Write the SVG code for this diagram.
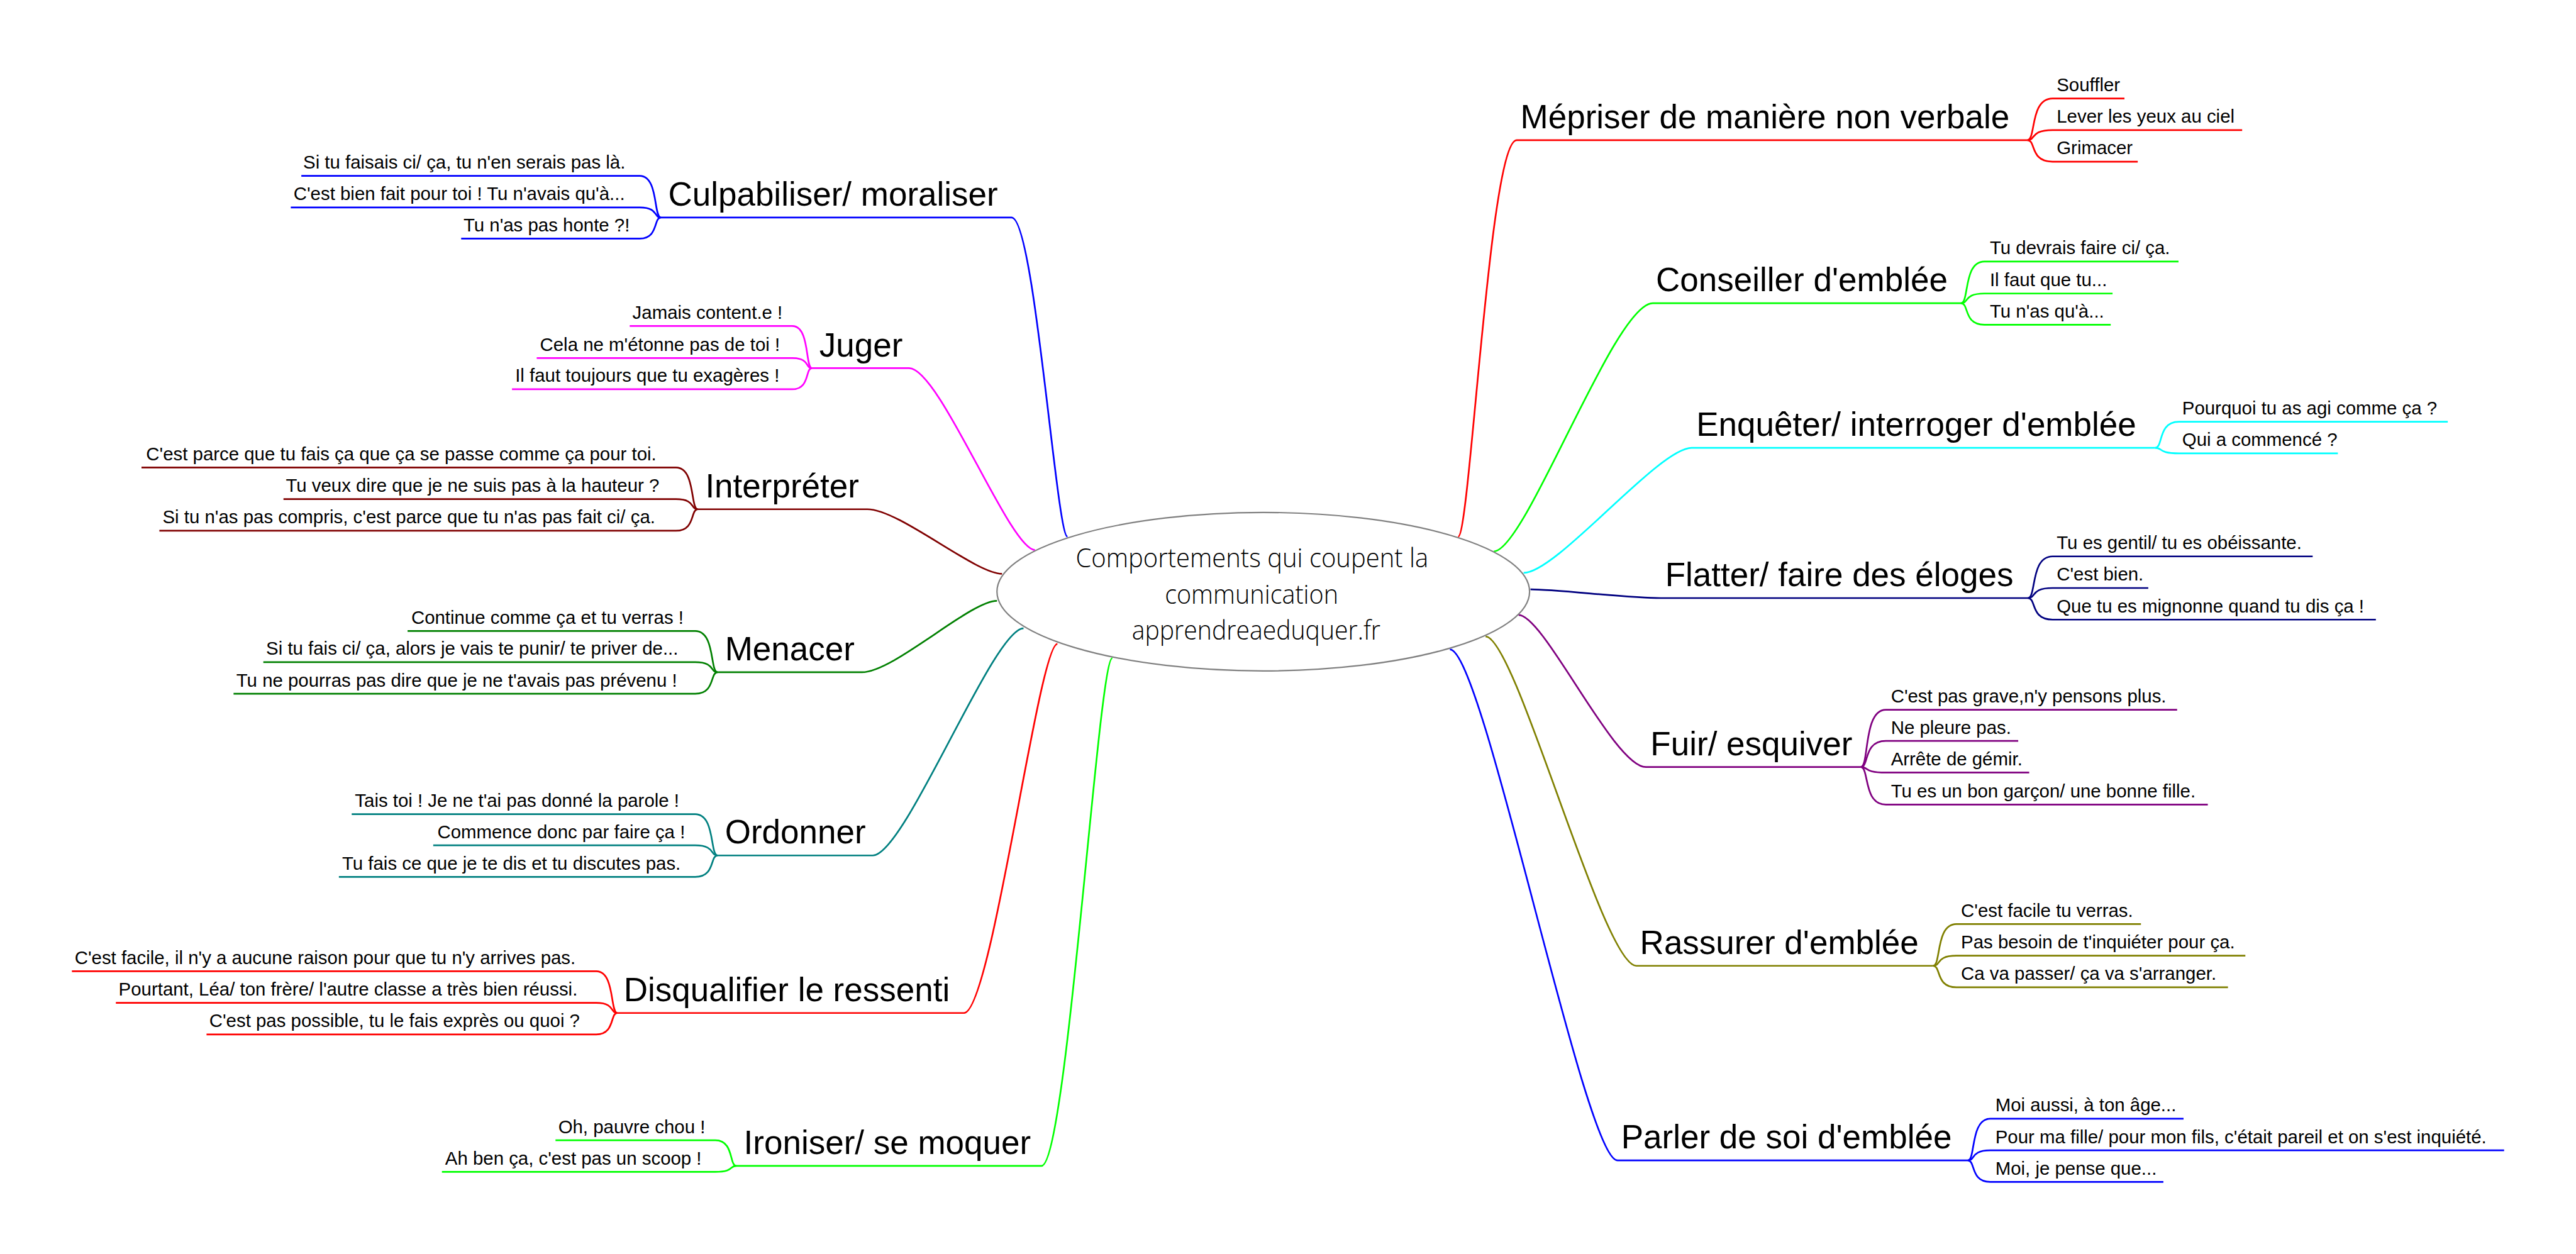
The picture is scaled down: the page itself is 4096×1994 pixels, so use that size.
<svg xmlns="http://www.w3.org/2000/svg" width="4096" height="1994" viewBox="0 0 4096 1994">
<style>
.c{fill:none;stroke-width:3.7}
.r{stroke:#f00}.g{stroke:#0f0}.y{stroke:#0ff}.n{stroke:#000080}.p{stroke:#800080}.o{stroke:#808000}.b{stroke:#00f}.m{stroke:#f0f}.d{stroke:#800000}.e{stroke:#008000}.t{stroke:#008080}
text{font-family:"Liberation Sans",Arial,sans-serif;fill:#000}
.h{font-size:72.8px}
.s{font-size:40.4px}
.k{font-family:"Open Sans","Liberation Sans",sans-serif;font-weight:300;font-size:58px;text-anchor:middle}
</style>
<rect width="4096" height="1994" fill="#fff"/>
<g transform="scale(0.72818)">
<g id="connectors">
<path class="c r" d="M3184,1172C3210,1172 3252,306 3312,306H4427"/>
<path class="c r" d="M4427,306C4446,306 4432,215 4482,215H4639"/>
<path class="c r" d="M4427,306C4446,306 4432,284 4482,284H4896"/>
<path class="c r" d="M4427,306C4446,306 4432,353 4482,353H4668"/>
<path class="c g" d="M3262,1204C3331,1204 3525,662 3609,662H4282"/>
<path class="c g" d="M4282,662C4300,662 4287,571 4333,571H4757"/>
<path class="c g" d="M4282,662C4300,662 4287,641 4333,641H4613"/>
<path class="c g" d="M4282,662C4300,662 4287,709 4333,709H4609"/>
<path class="c y" d="M3327,1251C3400,1251 3621,978 3694,978H4706"/>
<path class="c y" d="M4706,978C4724,978 4711,921 4758,921H5345"/>
<path class="c y" d="M4706,978C4724,978 4711,990 4758,990H5105"/>
<path class="c n" d="M3342,1287C3399,1287 3556,1306 3626,1306H4428"/>
<path class="c n" d="M4428,1306C4447,1306 4433,1215 4482,1215H5050"/>
<path class="c n" d="M4428,1306C4447,1306 4433,1284 4482,1284H4691"/>
<path class="c n" d="M4428,1306C4447,1306 4433,1353 4482,1353H5188"/>
<path class="c p" d="M3316,1343C3372,1343 3524,1675 3594,1675H4063"/>
<path class="c p" d="M4063,1675C4082,1675 4068,1550 4118,1550H4754"/>
<path class="c p" d="M4063,1675C4082,1675 4068,1618 4118,1618H4407"/>
<path class="c p" d="M4063,1675C4082,1675 4068,1687 4118,1687H4431"/>
<path class="c p" d="M4063,1675C4082,1675 4068,1757 4118,1757H4821"/>
<path class="c o" d="M3244,1390C3310,1390 3500,2109 3573,2109H4221"/>
<path class="c o" d="M4221,2109C4239,2109 4226,2018 4272,2018H4675"/>
<path class="c o" d="M4221,2109C4239,2109 4226,2087 4272,2087H4903"/>
<path class="c o" d="M4221,2109C4239,2109 4226,2156 4272,2156H4865"/>
<path class="c b" d="M3166,1418C3239,1418 3460,2534 3532,2534H4297"/>
<path class="c b" d="M4297,2534C4314,2534 4302,2443 4346,2443H4768"/>
<path class="c b" d="M4297,2534C4314,2534 4302,2512 4346,2512H5468"/>
<path class="c b" d="M4297,2534C4314,2534 4302,2581 4346,2581H4724"/>
<path class="c b" d="M2331,1172C2307,1172 2259,475 2209,475H1443"/>
<path class="c b" d="M1443,475C1427,475 1438,384 1397,384H658"/>
<path class="c b" d="M1443,475C1427,475 1438,453 1397,453H635"/>
<path class="c b" d="M1443,475C1427,475 1438,521 1397,521H1007"/>
<path class="c m" d="M2260,1201C2205,1201 2052,804 1985,804H1773"/>
<path class="c m" d="M1773,804C1758,804 1769,712 1730,712H1375"/>
<path class="c m" d="M1773,804C1758,804 1769,782 1730,782H1172"/>
<path class="c m" d="M1773,804C1758,804 1769,850 1730,850H1118"/>
<path class="c d" d="M2188,1253C2129,1253 1964,1112 1894,1112H1524"/>
<path class="c d" d="M1524,1112C1507,1112 1519,1021 1476,1021H309"/>
<path class="c d" d="M1524,1112C1507,1112 1519,1090 1476,1090H619"/>
<path class="c d" d="M1524,1112C1507,1112 1519,1159 1476,1159H348"/>
<path class="c e" d="M2177,1312C2118,1312 1952,1468 1882,1468H1567"/>
<path class="c e" d="M1567,1468C1550,1468 1562,1378 1518,1378H890"/>
<path class="c e" d="M1567,1468C1550,1468 1562,1446 1518,1446H575"/>
<path class="c e" d="M1567,1468C1550,1468 1562,1515 1518,1515H510"/>
<path class="c t" d="M2235,1372C2169,1372 1976,1868 1906,1868H1567"/>
<path class="c t" d="M1567,1868C1550,1868 1562,1778 1518,1778H768"/>
<path class="c t" d="M1567,1868C1550,1868 1562,1846 1518,1846H946"/>
<path class="c t" d="M1567,1868C1550,1868 1562,1915 1518,1915H740"/>
<path class="c r" d="M2309,1406C2268,1406 2165,2212 2105,2212H1348"/>
<path class="c r" d="M1348,2212C1332,2212 1343,2121 1302,2121H157"/>
<path class="c r" d="M1348,2212C1332,2212 1343,2190 1302,2190H253"/>
<path class="c r" d="M1348,2212C1332,2212 1343,2259 1302,2259H451"/>
<path class="c g" d="M2429,1437C2398,1437 2330,2546 2274,2546H1608"/>
<path class="c g" d="M1608,2546C1592,2546 1603,2490 1562,2490H1213"/>
<path class="c g" d="M1608,2546C1592,2546 1603,2559 1562,2559H965"/>
</g>
<g id="centre">
<ellipse cx="2758.5" cy="1292" rx="581.5" ry="173" fill="#fff" stroke="#808080" stroke-width="3"/>
<text class="k" x="2734" y="1239" textLength="770" lengthAdjust="spacingAndGlyphs">Comportements qui coupent la</text>
<text class="k" x="2733" y="1318" textLength="379" lengthAdjust="spacingAndGlyphs">communication</text>
<text class="k" x="2743" y="1397" textLength="543" lengthAdjust="spacingAndGlyphs">apprendreaeduquer.fr</text>
</g>
<g id="mepriser">
<text class="h" x="3320" y="280">Mépriser de manière non verbale</text>
<text class="s" x="4491" y="199">Souffler</text>
<text class="s" x="4491" y="268">Lever les yeux au ciel</text>
<text class="s" x="4491" y="337">Grimacer</text>
</g>
<g id="conseiller">
<text class="h" x="3616" y="636">Conseiller d'emblée</text>
<text class="s" x="4345" y="555">Tu devrais faire ci/ ça.</text>
<text class="s" x="4345" y="625">Il faut que tu...</text>
<text class="s" x="4345" y="693">Tu n'as qu'à...</text>
</g>
<g id="enqueter">
<text class="h" x="3704" y="952">Enquêter/ interroger d'emblée</text>
<text class="s" x="4765" y="905">Pourquoi tu as agi comme ça ?</text>
<text class="s" x="4765" y="974">Qui a commencé ?</text>
</g>
<g id="flatter">
<text class="h" x="3636" y="1280">Flatter/ faire des éloges</text>
<text class="s" x="4491" y="1199">Tu es gentil/ tu es obéissante.</text>
<text class="s" x="4491" y="1268">C'est bien.</text>
<text class="s" x="4491" y="1337">Que tu es mignonne quand tu dis ça !</text>
</g>
<g id="fuir">
<text class="h" x="3604" y="1649">Fuir/ esquiver</text>
<text class="s" x="4129" y="1534">C'est pas grave,n'y pensons plus.</text>
<text class="s" x="4129" y="1602">Ne pleure pas.</text>
<text class="s" x="4129" y="1671">Arrête de gémir.</text>
<text class="s" x="4129" y="1741">Tu es un bon garçon/ une bonne fille.</text>
</g>
<g id="rassurer">
<text class="h" x="3581" y="2083">Rassurer d'emblée</text>
<text class="s" x="4282" y="2002">C'est facile tu verras.</text>
<text class="s" x="4282" y="2071">Pas besoin de t'inquiéter pour ça.</text>
<text class="s" x="4282" y="2140">Ca va passer/ ça va s'arranger.</text>
</g>
<g id="parler">
<text class="h" x="3540" y="2508">Parler de soi d'emblée</text>
<text class="s" x="4357" y="2427">Moi aussi, à ton âge...</text>
<text class="s" x="4357" y="2496">Pour ma fille/ pour mon fils, c'était pareil et on s'est inquiété.</text>
<text class="s" x="4357" y="2565">Moi, je pense que...</text>
</g>
<g id="culpabiliser">
<text class="h" x="1459" y="449">Culpabiliser/ moraliser</text>
<text class="s" x="662" y="368">Si tu faisais ci/ ça, tu n'en serais pas là.</text>
<text class="s" x="641" y="437">C'est bien fait pour toi ! Tu n'avais qu'à...</text>
<text class="s" x="1012" y="505">Tu n'as pas honte ?!</text>
</g>
<g id="juger">
<text class="h" x="1789" y="778">Juger</text>
<text class="s" x="1381" y="696">Jamais content.e !</text>
<text class="s" x="1179" y="766">Cela ne m'étonne pas de toi !</text>
<text class="s" x="1125" y="834">Il faut toujours que tu exagères !</text>
</g>
<g id="interpreter">
<text class="h" x="1540" y="1086">Interpréter</text>
<text class="s" x="319" y="1005">C'est parce que tu fais ça que ça se passe comme ça pour toi.</text>
<text class="s" x="624" y="1074">Tu veux dire que je ne suis pas à la hauteur ?</text>
<text class="s" x="355" y="1143">Si tu n'as pas compris, c'est parce que tu n'as pas fait ci/ ça.</text>
</g>
<g id="menacer">
<text class="h" x="1583" y="1442">Menacer</text>
<text class="s" x="898" y="1362">Continue comme ça et tu verras !</text>
<text class="s" x="581" y="1430">Si tu fais ci/ ça, alors je vais te punir/ te priver de...</text>
<text class="s" x="516" y="1499">Tu ne pourras pas dire que je ne t'avais pas prévenu !</text>
</g>
<g id="ordonner">
<text class="h" x="1583" y="1842">Ordonner</text>
<text class="s" x="775" y="1762">Tais toi ! Je ne t'ai pas donné la parole !</text>
<text class="s" x="955" y="1830">Commence donc par faire ça !</text>
<text class="s" x="747" y="1899">Tu fais ce que je te dis et tu discutes pas.</text>
</g>
<g id="disqualifier">
<text class="h" x="1362" y="2186">Disqualifier le ressenti</text>
<text class="s" x="163" y="2105">C'est facile, il n'y a aucune raison pour que tu n'y arrives pas.</text>
<text class="s" x="259" y="2174">Pourtant, Léa/ ton frère/ l'autre classe a très bien réussi.</text>
<text class="s" x="457" y="2243">C'est pas possible, tu le fais exprès ou quoi ?</text>
</g>
<g id="ironiser">
<text class="h" x="1624" y="2520">Ironiser/ se moquer</text>
<text class="s" x="1219" y="2474">Oh, pauvre chou !</text>
<text class="s" x="972" y="2543">Ah ben ça, c'est pas un scoop !</text>
</g>
</g>
</svg>
